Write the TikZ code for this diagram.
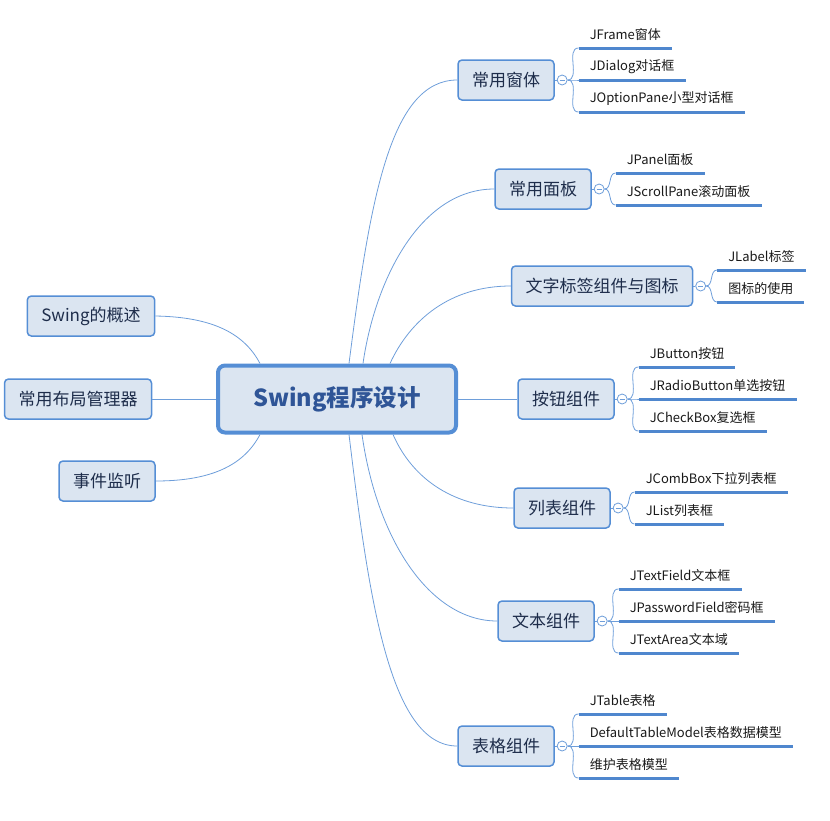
\documentclass[tikz,border=0pt]{standalone}
\usepackage{fontspec}
\setmainfont{Noto Sans CJK SC}
\usetikzlibrary{positioning,calc}

\definecolor{boxfill}{RGB}{219,229,241}
\definecolor{boxline}{RGB}{85,142,213}
\definecolor{linkline}{RGB}{110,158,218}
\definecolor{ulinecol}{RGB}{79,135,206}
\definecolor{topictext}{RGB}{30,45,75}
\definecolor{roottext}{RGB}{47,85,151}

\tikzset{
  rootbox/.style={draw=boxline, fill=boxfill, line width=4pt, rounded corners=7pt,
    minimum width=238pt, minimum height=67pt, text=roottext,
    font=\fontsize{23.5}{27}\selectfont\bfseries},
  topic/.style={draw=boxline, fill=boxfill, line width=1.5pt, rounded corners=4pt,
    minimum height=40pt, inner xsep=14pt, text=topictext,
    font=\fontsize{17}{20}\selectfont},
  fold/.style={circle, draw=linkline, fill=white, line width=0.8pt,
    minimum size=10pt, inner sep=0pt,
    path picture={\draw[linkline, line width=0.8pt]
      ([xshift=2.5pt]path picture bounding box.west) --
      ([xshift=-2.5pt]path picture bounding box.east);}},
  leaf/.style={anchor=south west, inner xsep=11pt, inner ysep=0pt,
    minimum height=26pt, text=black!90, font=\fontsize{13}{15}\selectfont},
  link/.style={draw=linkline, line width=0.8pt},
  uline/.style={draw=ulinecol, line width=3pt},
}

\begin{document}
\begin{tikzpicture}[x=1pt,y=1pt,yscale=-1]
  \useasboundingbox (0,0) rectangle (830,820);

  % centre
  \node[rootbox] (root) at (337,399) {Swing程序设计};

  % left topics
  \node[topic] (swing) at (91,316) {Swing的概述};
  \node[topic] (layout) at (78,399) {常用布局管理器};
  \node[topic] (event) at (107,481) {事件监听};

  % right topics
  \node[topic] (frame) at (506,80) {常用窗体};
  \node[topic] (panel) at (543,189) {常用面板};
  \node[topic] (icon) at (602,286) {文字标签组件与图标};
  \node[topic] (button) at (566,399) {按钮组件};
  \node[topic] (listc) at (562,508) {列表组件};
  \node[topic] (textc) at (546,621) {文本组件};
  \node[topic] (table) at (506,746) {表格组件};

  % fold markers
  \node[fold, right=2pt of frame] (ffr) {};
  \node[fold, right=2pt of panel] (fpa) {};
  \node[fold, right=2pt of icon] (fic) {};
  \node[fold, right=2pt of button] (fbu) {};
  \node[fold, right=2pt of listc] (fli) {};
  \node[fold, right=2pt of textc] (fte) {};
  \node[fold, right=2pt of table] (fta) {};

  % leaves
  \node[leaf] (l11) at ($(ffr.east)+(11,-32)$) {JFrame窗体};
  \node[leaf] (l12) at ($(ffr.east)+(11,0)$) {JDialog对话框};
  \node[leaf] (l13) at ($(ffr.east)+(11,32)$) {JOptionPane小型对话框};
  \node[leaf] (l21) at ($(fpa.east)+(11,-16)$) {JPanel面板};
  \node[leaf] (l22) at ($(fpa.east)+(11,16)$) {JScrollPane滚动面板};
  \node[leaf] (l31) at ($(fic.east)+(11,-16)$) {JLabel标签};
  \node[leaf] (l32) at ($(fic.east)+(11,16)$) {图标的使用};
  \node[leaf] (l41) at ($(fbu.east)+(11,-32)$) {JButton按钮};
  \node[leaf] (l42) at ($(fbu.east)+(11,0)$) {JRadioButton单选按钮};
  \node[leaf] (l43) at ($(fbu.east)+(11,32)$) {JCheckBox复选框};
  \node[leaf] (l51) at ($(fli.east)+(11,-16)$) {JCombBox下拉列表框};
  \node[leaf] (l52) at ($(fli.east)+(11,16)$) {JList列表框};
  \node[leaf] (l61) at ($(fte.east)+(11,-32)$) {JTextField文本框};
  \node[leaf] (l62) at ($(fte.east)+(11,0)$) {JPasswordField密码框};
  \node[leaf] (l63) at ($(fte.east)+(11,32)$) {JTextArea文本域};
  \node[leaf] (l71) at ($(fta.east)+(11,-32)$) {JTable表格};
  \node[leaf] (l72) at ($(fta.east)+(11,0)$) {DefaultTableModel表格数据模型};
  \node[leaf] (l73) at ($(fta.east)+(11,32)$) {维护表格模型};

  % centre to topics
  \draw[link] (swing.east) .. controls (215,317) and (245,335) .. ([xshift=-77pt]root.north);
  \draw[link] (layout) -- (root);
  \draw[link] (event.east) .. controls (215,481) and (245,463) .. ([xshift=-77pt]root.south);
  \draw[link] ([xshift=12pt]root.north) .. controls (370,200) and (390,80) .. (frame.west);
  \draw[link] ([xshift=26pt]root.north) .. controls (375,280) and (420,189) .. (panel.west);
  \draw[link] ([xshift=53pt]root.north) .. controls (410,320) and (450,286) .. (icon.west);
  \draw[link] (root) -- (button);
  \draw[link] ([xshift=56pt]root.south) .. controls (413,480) and (455,508) .. (listc.west);
  \draw[link] ([xshift=25pt]root.south) .. controls (377,540) and (430,621) .. (textc.west);
  \draw[link] ([xshift=12pt]root.south) .. controls (369,600) and (390,746) .. (table.west);

  % topics to fold markers
  \foreach \t/\f in {frame/ffr,panel/fpa,icon/fic,button/fbu,listc/fli,textc/fte,table/fta}
    \draw[link] (\t) -- (\f);

  % fold markers to leaves
  \foreach \f/\l in {ffr/l11,ffr/l12,ffr/l13,fpa/l21,fpa/l22,fic/l31,fic/l32,
      fbu/l41,fbu/l42,fbu/l43,fli/l51,fli/l52,fte/l61,fte/l62,fte/l63,
      fta/l71,fta/l72,fta/l73}
    \draw[link] (\f.east) to[out=0,in=180] (\l.south west);

  % underlines
  \foreach \l in {l11,l12,l13,l21,l22,l31,l32,l41,l42,l43,l51,l52,l61,l62,l63,l71,l72,l73}
    \draw[uline] (\l.south west) -- (\l.south east);
\end{tikzpicture}
\end{document}
